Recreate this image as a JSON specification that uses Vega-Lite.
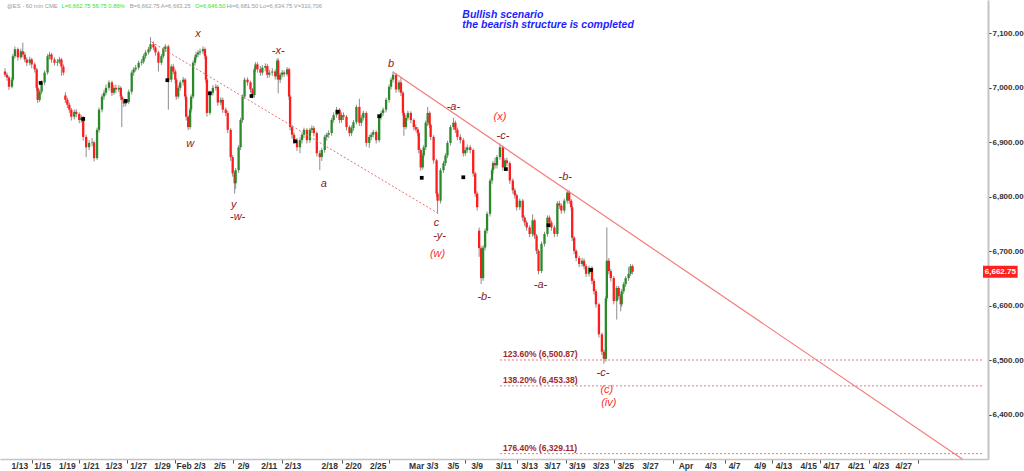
{
"$schema":"https://vega.github.io/schema/vega-lite/v6.json",
"width":988,"height":459,
"autosize":{"type":"none"},
"padding":{"left":0,"top":0,"right":36,"bottom":12},
"background":"white",
"config":{"view":{"stroke":null},"font":"Liberation Sans"},
"datasets":{
"candles":[
{"t":0,"o":7030,"h":7036,"l":7020,"c":7024},{"t":2,"o":7024,"h":7028,"l":7013,"c":7019},{"t":4,"o":7019,"h":7022,"l":6996,"c":7002},{"t":7,"o":7002,"h":7019,"l":6999,"c":7015},{"t":8,"o":7015,"h":7062,"l":7012,"c":7058},{"t":10,"o":7058,"h":7076,"l":7054,"c":7071},{"t":13,"o":7071,"h":7074,"l":7050,"c":7056},{"t":16,"o":7056,"h":7072,"l":7052,"c":7067},{"t":18,"o":7067,"h":7083,"l":7056,"c":7061},{"t":20,"o":7061,"h":7066,"l":7047,"c":7052},{"t":22,"o":7052,"h":7056,"l":7040,"c":7046},{"t":25,"o":7046,"h":7057,"l":7041,"c":7052},{"t":27,"o":7052,"h":7055,"l":7036,"c":7043},{"t":30,"o":7043,"h":7047,"l":7028,"c":7034},{"t":32,"o":7034,"h":7037,"l":6994,"c":7000},{"t":33,"o":7000,"h":7004,"l":6972,"c":6978},{"t":35,"o":6978,"h":6997,"l":6974,"c":6993},{"t":37,"o":6993,"h":7014,"l":6988,"c":7010},{"t":40,"o":7010,"h":7032,"l":7005,"c":7028},{"t":43,"o":7028,"h":7062,"l":7024,"c":7058},{"t":45,"o":7058,"h":7066,"l":7052,"c":7061},{"t":47,"o":7061,"h":7064,"l":7046,"c":7052},{"t":50,"o":7052,"h":7056,"l":7041,"c":7046},{"t":53,"o":7046,"h":7053,"l":7040,"c":7048},{"t":55,"o":7048,"h":7057,"l":7044,"c":7052},{"t":57,"o":7052,"h":7055,"l":7022,"c":7039},{"t":59,"o":7039,"h":7043,"l":7023,"c":7028},
{"t":61,"o":6986,"h":6992,"l":6972,"c":6978},{"t":63,"o":6978,"h":6982,"l":6963,"c":6969},{"t":65,"o":6969,"h":6973,"l":6954,"c":6960},{"t":67,"o":6960,"h":6963,"l":6940,"c":6947},{"t":70,"o":6947,"h":6960,"l":6942,"c":6956},{"t":72,"o":6956,"h":6961,"l":6946,"c":6952},{"t":75,"o":6952,"h":6955,"l":6935,"c":6941},{"t":77,"o":6941,"h":6950,"l":6936,"c":6945},{"t":79,"o":6945,"h":6948,"l":6903,"c":6910},{"t":82,"o":6910,"h":6914,"l":6873,"c":6891},{"t":85,"o":6891,"h":6904,"l":6886,"c":6899},{"t":88,"o":6899,"h":6908,"l":6893,"c":6900},{"t":90,"o":6900,"h":6903,"l":6865,"c":6871},{"t":93,"o":6871,"h":6927,"l":6868,"c":6923},{"t":95,"o":6923,"h":6964,"l":6918,"c":6960},{"t":98,"o":6960,"h":6988,"l":6955,"c":6984},{"t":100,"o":6984,"h":6996,"l":6978,"c":6991},{"t":102,"o":6991,"h":7006,"l":6986,"c":7000},{"t":105,"o":7000,"h":7014,"l":6995,"c":7010},{"t":108,"o":7010,"h":7013,"l":6985,"c":6991},{"t":110,"o":6991,"h":7005,"l":6987,"c":7000},{"t":112,"o":7000,"h":7006,"l":6990,"c":6997},{"t":115,"o":6997,"h":7005,"l":6992,"c":7000},{"t":117,"o":7000,"h":7003,"l":6978,"c":6984},{"t":118,"o":6984,"h":6988,"l":6928,"c":6978},{"t":120,"o":6978,"h":6982,"l":6965,"c":6971},{"t":122,"o":6971,"h":6979,"l":6966,"c":6974},{"t":125,"o":6974,"h":6997,"l":6970,"c":6993},{"t":128,"o":6993,"h":7032,"l":6988,"c":7028},{"t":130,"o":7028,"h":7038,"l":7022,"c":7034},{"t":132,"o":7034,"h":7042,"l":7030,"c":7037},{"t":135,"o":7037,"h":7050,"l":7033,"c":7046},{"t":138,"o":7046,"h":7053,"l":7041,"c":7048},{"t":140,"o":7048,"h":7062,"l":7044,"c":7058},{"t":142,"o":7058,"h":7069,"l":7053,"c":7065},{"t":145,"o":7065,"h":7075,"l":7061,"c":7071},{"t":147,"o":7071,"h":7093,"l":7067,"c":7080},{"t":150,"o":7080,"h":7085,"l":7069,"c":7074},{"t":152,"o":7074,"h":7077,"l":7059,"c":7065},{"t":155,"o":7065,"h":7068,"l":7030,"c":7046},{"t":158,"o":7046,"h":7062,"l":7042,"c":7058},{"t":160,"o":7058,"h":7075,"l":7054,"c":7071},{"t":162,"o":7071,"h":7080,"l":7066,"c":7076},{"t":165,"o":7076,"h":7079,"l":6960,"c":7015},{"t":168,"o":7015,"h":7043,"l":7010,"c":7039},{"t":170,"o":7039,"h":7044,"l":7025,"c":7030},{"t":172,"o":7030,"h":7034,"l":7008,"c":7015},{"t":173,"o":7015,"h":7018,"l":6978,"c":6984},{"t":175,"o":6984,"h":7005,"l":6980,"c":7000},{"t":177,"o":7000,"h":7014,"l":6995,"c":7010},{"t":180,"o":7010,"h":7020,"l":7004,"c":7015},{"t":182,"o":7015,"h":7018,"l":6978,"c":6984},{"t":183,"o":6984,"h":6987,"l":6940,"c":6947},{"t":185,"o":6947,"h":6950,"l":6922,"c":6928},{"t":187,"o":6928,"h":6964,"l":6924,"c":6960},{"t":188,"o":6960,"h":6988,"l":6955,"c":6984},{"t":190,"o":6984,"h":7050,"l":6980,"c":7046},{"t":192,"o":7046,"h":7060,"l":7041,"c":7056},{"t":193,"o":7056,"h":7066,"l":7052,"c":7061},{"t":195,"o":7061,"h":7069,"l":7056,"c":7065},{"t":197,"o":7065,"h":7072,"l":7060,"c":7067},{"t":200,"o":7067,"h":7076,"l":7062,"c":7071},{"t":202,"o":7071,"h":7074,"l":7053,"c":7058},{"t":203,"o":7058,"h":7061,"l":7009,"c":7015},{"t":204,"o":7015,"h":7018,"l":6947,"c":6954},{"t":207,"o":6954,"h":6995,"l":6950,"c":6991},{"t":210,"o":6991,"h":7005,"l":6986,"c":7000},{"t":213,"o":7000,"h":7007,"l":6995,"c":7002},{"t":215,"o":7002,"h":7005,"l":6967,"c":6973},{"t":218,"o":6973,"h":6983,"l":6968,"c":6978},{"t":220,"o":6978,"h":6982,"l":6954,"c":6960},{"t":223,"o":6960,"h":6964,"l":6948,"c":6954},{"t":225,"o":6954,"h":6958,"l":6917,"c":6923},{"t":228,"o":6923,"h":6926,"l":6866,"c":6873},{"t":230,"o":6873,"h":6877,"l":6837,"c":6843},{"t":232,"o":6843,"h":6847,"l":6806,"c":6825},{"t":233,"o":6825,"h":6853,"l":6815,"c":6849},{"t":236,"o":6849,"h":6895,"l":6844,"c":6891},{"t":238,"o":6891,"h":6945,"l":6886,"c":6941},{"t":240,"o":6941,"h":6988,"l":6936,"c":6984},{"t":242,"o":6984,"h":7019,"l":6980,"c":7015},{"t":245,"o":7015,"h":7019,"l":7004,"c":7010},{"t":248,"o":7010,"h":7013,"l":6991,"c":6997},{"t":250,"o":6997,"h":7000,"l":6981,"c":6987},{"t":252,"o":6987,"h":7038,"l":6982,"c":7034},{"t":253,"o":7034,"h":7047,"l":7029,"c":7043},{"t":255,"o":7043,"h":7047,"l":7028,"c":7034},{"t":258,"o":7034,"h":7040,"l":7022,"c":7028},{"t":260,"o":7028,"h":7042,"l":7023,"c":7037},{"t":263,"o":7037,"h":7045,"l":7030,"c":7040},{"t":265,"o":7040,"h":7044,"l":7018,"c":7024},{"t":267,"o":7024,"h":7033,"l":7019,"c":7028},{"t":270,"o":7028,"h":7036,"l":7022,"c":7030},{"t":273,"o":7030,"h":7034,"l":7015,"c":7021},{"t":275,"o":7021,"h":7054,"l":7016,"c":7050},{"t":276,"o":7050,"h":7054,"l":6990,"c":7015},{"t":278,"o":7015,"h":7028,"l":7009,"c":7024},{"t":280,"o":7024,"h":7033,"l":7019,"c":7028},{"t":282,"o":7028,"h":7032,"l":7020,"c":7025},{"t":285,"o":7025,"h":7038,"l":7021,"c":7034},{"t":287,"o":7034,"h":7037,"l":6978,"c":6984},{"t":288,"o":6984,"h":6987,"l":6922,"c":6928},{"t":290,"o":6928,"h":6932,"l":6907,"c":6914},{"t":292,"o":6914,"h":6918,"l":6897,"c":6904},{"t":295,"o":6904,"h":6908,"l":6884,"c":6891},{"t":298,"o":6891,"h":6909,"l":6880,"c":6904},{"t":300,"o":6904,"h":6918,"l":6898,"c":6914},{"t":302,"o":6914,"h":6927,"l":6908,"c":6923},{"t":305,"o":6923,"h":6926,"l":6898,"c":6904},{"t":308,"o":6904,"h":6927,"l":6899,"c":6923},{"t":310,"o":6923,"h":6931,"l":6917,"c":6926},{"t":312,"o":6926,"h":6930,"l":6911,"c":6917},{"t":315,"o":6917,"h":6920,"l":6874,"c":6880},{"t":318,"o":6880,"h":6885,"l":6849,"c":6873},{"t":320,"o":6873,"h":6890,"l":6866,"c":6886},{"t":323,"o":6886,"h":6914,"l":6881,"c":6910},{"t":325,"o":6910,"h":6918,"l":6903,"c":6914},{"t":327,"o":6914,"h":6922,"l":6908,"c":6917},{"t":330,"o":6917,"h":6945,"l":6912,"c":6941},{"t":332,"o":6941,"h":6955,"l":6936,"c":6950},{"t":335,"o":6950,"h":6965,"l":6945,"c":6960},{"t":338,"o":6960,"h":6963,"l":6935,"c":6941},{"t":340,"o":6941,"h":6955,"l":6936,"c":6950},{"t":342,"o":6950,"h":6955,"l":6941,"c":6947},{"t":345,"o":6947,"h":6950,"l":6922,"c":6928},{"t":348,"o":6928,"h":6931,"l":6911,"c":6917},{"t":350,"o":6917,"h":6931,"l":6912,"c":6926},{"t":352,"o":6926,"h":6941,"l":6921,"c":6937},{"t":355,"o":6937,"h":6969,"l":6933,"c":6965},{"t":358,"o":6965,"h":6980,"l":6930,"c":6936},{"t":360,"o":6936,"h":6950,"l":6930,"c":6945},{"t":362,"o":6945,"h":6958,"l":6940,"c":6954},{"t":365,"o":6954,"h":6957,"l":6892,"c":6899},{"t":368,"o":6899,"h":6914,"l":6890,"c":6910},{"t":370,"o":6910,"h":6918,"l":6904,"c":6914},{"t":372,"o":6914,"h":6923,"l":6909,"c":6919},{"t":375,"o":6919,"h":6922,"l":6898,"c":6904},{"t":378,"o":6904,"h":6951,"l":6900,"c":6947},{"t":380,"o":6947,"h":6958,"l":6942,"c":6954},{"t":382,"o":6954,"h":6964,"l":6949,"c":6960},{"t":385,"o":6960,"h":6982,"l":6955,"c":6978},{"t":388,"o":6978,"h":7006,"l":6973,"c":7002},{"t":390,"o":7002,"h":7019,"l":6997,"c":7015},{"t":392,"o":7015,"h":7030,"l":7010,"c":7024},{"t":395,"o":7024,"h":7027,"l":6991,"c":6997},{"t":398,"o":6997,"h":7014,"l":6992,"c":7010},{"t":400,"o":7010,"h":7020,"l":6985,"c":6991},{"t":402,"o":6991,"h":6994,"l":6948,"c":6954},{"t":403,"o":6954,"h":6957,"l":6912,"c":6928},{"t":405,"o":6928,"h":6950,"l":6924,"c":6945},{"t":407,"o":6945,"h":6958,"l":6940,"c":6954},{"t":410,"o":6954,"h":6957,"l":6935,"c":6941},{"t":413,"o":6941,"h":6944,"l":6922,"c":6928},{"t":415,"o":6928,"h":6933,"l":6920,"c":6924},{"t":417,"o":6924,"h":6928,"l":6911,"c":6917},{"t":418,"o":6917,"h":6920,"l":6880,"c":6886},{"t":420,"o":6886,"h":6889,"l":6848,"c":6854},{"t":422,"o":6854,"h":6880,"l":6850,"c":6876},{"t":423,"o":6876,"h":6895,"l":6871,"c":6891},{"t":425,"o":6891,"h":6940,"l":6886,"c":6936},{"t":427,"o":6936,"h":6965,"l":6930,"c":6954},{"t":429,"o":6954,"h":6957,"l":6926,"c":6932},{"t":430,"o":6932,"h":6935,"l":6904,"c":6910},{"t":433,"o":6910,"h":6913,"l":6861,"c":6867},{"t":436,"o":6867,"h":6870,"l":6800,"c":6806},{"t":437,"o":6806,"h":6810,"l":6769,"c":6793},{"t":440,"o":6793,"h":6853,"l":6788,"c":6849},{"t":443,"o":6849,"h":6866,"l":6844,"c":6862},{"t":445,"o":6862,"h":6880,"l":6857,"c":6876},{"t":447,"o":6876,"h":6903,"l":6871,"c":6899},{"t":450,"o":6899,"h":6932,"l":6894,"c":6928},{"t":453,"o":6928,"h":6945,"l":6923,"c":6936},{"t":455,"o":6936,"h":6940,"l":6917,"c":6923},{"t":457,"o":6923,"h":6927,"l":6904,"c":6910},{"t":460,"o":6910,"h":6915,"l":6898,"c":6904},{"t":463,"o":6904,"h":6908,"l":6874,"c":6880},{"t":465,"o":6880,"h":6891,"l":6875,"c":6886},{"t":467,"o":6886,"h":6896,"l":6881,"c":6891},{"t":470,"o":6891,"h":6895,"l":6880,"c":6886},{"t":473,"o":6886,"h":6889,"l":6837,"c":6843},{"t":475,"o":6843,"h":6846,"l":6800,"c":6806},{"t":477,"o":6806,"h":6810,"l":6775,"c":6781},
{"t":479,"o":6738,"h":6744,"l":6690,"c":6706},{"t":481,"o":6706,"h":6710,"l":6640,"c":6651},{"t":483,"o":6651,"h":6711,"l":6646,"c":6707},{"t":485,"o":6707,"h":6742,"l":6702,"c":6738},{"t":487,"o":6738,"h":6773,"l":6733,"c":6769},{"t":490,"o":6769,"h":6834,"l":6764,"c":6830},{"t":492,"o":6830,"h":6853,"l":6824,"c":6849},{"t":493,"o":6849,"h":6866,"l":6843,"c":6862},{"t":495,"o":6862,"h":6872,"l":6852,"c":6858},{"t":497,"o":6858,"h":6877,"l":6852,"c":6873},{"t":500,"o":6873,"h":6898,"l":6868,"c":6891},{"t":503,"o":6891,"h":6894,"l":6848,"c":6854},{"t":505,"o":6854,"h":6871,"l":6849,"c":6867},{"t":507,"o":6867,"h":6872,"l":6856,"c":6862},{"t":510,"o":6862,"h":6865,"l":6824,"c":6830},{"t":513,"o":6830,"h":6834,"l":6806,"c":6812},{"t":515,"o":6812,"h":6816,"l":6797,"c":6803},{"t":517,"o":6803,"h":6806,"l":6775,"c":6781},{"t":520,"o":6781,"h":6797,"l":6776,"c":6793},{"t":523,"o":6793,"h":6796,"l":6756,"c":6762},{"t":525,"o":6762,"h":6766,"l":6747,"c":6753},{"t":527,"o":6753,"h":6757,"l":6738,"c":6744},{"t":530,"o":6744,"h":6748,"l":6726,"c":6732},{"t":533,"o":6732,"h":6768,"l":6727,"c":6757},{"t":535,"o":6757,"h":6760,"l":6723,"c":6729},{"t":537,"o":6729,"h":6732,"l":6695,"c":6701},{"t":539,"o":6701,"h":6704,"l":6658,"c":6664},{"t":542,"o":6664,"h":6718,"l":6660,"c":6714},{"t":545,"o":6714,"h":6736,"l":6709,"c":6732},{"t":548,"o":6732,"h":6766,"l":6727,"c":6762},{"t":550,"o":6762,"h":6766,"l":6747,"c":6753},{"t":552,"o":6753,"h":6757,"l":6738,"c":6744},{"t":555,"o":6744,"h":6748,"l":6726,"c":6732},{"t":558,"o":6732,"h":6792,"l":6727,"c":6788},{"t":560,"o":6788,"h":6793,"l":6778,"c":6784},{"t":562,"o":6784,"h":6788,"l":6769,"c":6775},{"t":565,"o":6775,"h":6797,"l":6770,"c":6793},{"t":568,"o":6793,"h":6813,"l":6788,"c":6808},{"t":570,"o":6808,"h":6812,"l":6787,"c":6793},{"t":572,"o":6793,"h":6796,"l":6775,"c":6781},{"t":573,"o":6781,"h":6784,"l":6719,"c":6725},{"t":575,"o":6725,"h":6728,"l":6695,"c":6701},{"t":577,"o":6701,"h":6704,"l":6682,"c":6688},{"t":580,"o":6688,"h":6692,"l":6671,"c":6677},{"t":583,"o":6677,"h":6688,"l":6672,"c":6683},{"t":585,"o":6683,"h":6687,"l":6667,"c":6673},{"t":587,"o":6673,"h":6677,"l":6653,"c":6659},{"t":590,"o":6659,"h":6674,"l":6654,"c":6670},{"t":593,"o":6670,"h":6673,"l":6640,"c":6646},{"t":595,"o":6646,"h":6650,"l":6621,"c":6627},{"t":597,"o":6627,"h":6631,"l":6597,"c":6603},{"t":600,"o":6603,"h":6606,"l":6542,"c":6548},{"t":603,"o":6548,"h":6551,"l":6510,"c":6516},{"t":605,"o":6516,"h":6520,"l":6494,"c":6503},{"t":607,"o":6503,"h":6618,"l":6498,"c":6614},{"t":608,"o":6614,"h":6744,"l":6609,"c":6683},{"t":610,"o":6683,"h":6688,"l":6658,"c":6664},{"t":612,"o":6664,"h":6668,"l":6645,"c":6651},{"t":615,"o":6651,"h":6655,"l":6603,"c":6609},{"t":618,"o":6609,"h":6637,"l":6575,"c":6633},{"t":620,"o":6633,"h":6637,"l":6612,"c":6618},{"t":622,"o":6618,"h":6622,"l":6590,"c":6603},{"t":623,"o":6603,"h":6631,"l":6598,"c":6627},{"t":625,"o":6627,"h":6644,"l":6622,"c":6640},{"t":627,"o":6640,"h":6655,"l":6635,"c":6651},{"t":630,"o":6651,"h":6671,"l":6646,"c":6659},{"t":632,"o":6659,"h":6677,"l":6655,"c":6673},{"t":634,"o":6673,"h":6676,"l":6658,"c":6662.75}
],
"markers":[{"t":36,"p":7009},{"t":79,"p":6943},{"t":122,"p":6976},{"t":164,"p":7014},{"t":207,"p":6990},{"t":249,"p":6985},{"t":293,"p":6902},{"t":336,"p":6956},{"t":378,"p":6948},{"t":421,"p":6835},{"t":463,"p":6836},{"t":506,"p":6851},{"t":549,"p":6748},{"t":592,"p":6666}],
"dotted":[{"t":148,"p":7084},{"t":437,"p":6770.5}],
"solid":[{"t":392,"p":7029},{"t":967,"p":6319.3}],
"fib":[{"t":500,"t2":988,"p":6500.87,"label":"123.60% (6,500.87)"},{"t":500,"t2":988,"p":6453.38,"label":"138.20% (6,453.38)"},{"t":500,"t2":988,"p":6329.11,"label":"176.40% (6,329.11)"}],
"waves":[
{"t":195,"p":7098.7,"text":"x","kind":"dark"},{"t":187,"p":6897,"text":"w","kind":"dark"},{"t":231,"p":6785,"text":"y","kind":"dark"},{"t":235,"p":6763,"text":"-w-","kind":"dark"},{"t":276,"p":7067.5,"text":"-x-","kind":"dark"},{"t":322,"p":6823.6,"text":"a","kind":"dark"},{"t":390,"p":7043.7,"text":"b","kind":"dark"},{"t":453,"p":6964.8,"text":"-a-","kind":"dark"},{"t":436,"p":6752,"text":"c","kind":"dark"},{"t":439,"p":6728.3,"text":"-y-","kind":"dark"},{"t":437,"p":6695.3,"text":"(w)","kind":"bright"},{"t":500,"p":6946.5,"text":"(x)","kind":"bright"},{"t":503,"p":6911.7,"text":"-c-","kind":"dark"},{"t":484,"p":6616.4,"text":"-b-","kind":"dark"},{"t":541,"p":6638.4,"text":"-a-","kind":"dark"},{"t":566,"p":6836.5,"text":"-b-","kind":"dark"},{"t":604,"p":6477,"text":"-c-","kind":"dark"},{"t":608,"p":6445.8,"text":"(c)","kind":"bright"},{"t":610,"p":6422,"text":"(iv)","kind":"bright"}],
"titles":[{"t":462,"p":7133.6,"text":"Bullish scenario"},{"t":462,"p":7115.2,"text":"the bearish structure is completed"}],
"header":[{"t":2,"p":7150,"text":"@ES - 60 min CME","kind":"grey"},{"t":57,"p":7150,"text":"L=6,662.75 56.75 0.86%","kind":"green"},{"t":126,"p":7150,"text":"B=6,662.75 A=6,663.25","kind":"grey"},{"t":192,"p":7150,"text":"O=6,646.50","kind":"green"},{"t":224,"p":7150,"text":"Hi=6,681.50 Lo=6,634.75 V=310,706","kind":"grey"}],
"xlabels":[{"t":15,"p":6306.5,"text":"1/13"},{"t":38,"p":6306.5,"text":"1/15"},{"t":63,"p":6306.5,"text":"1/19"},{"t":87,"p":6306.5,"text":"1/21"},{"t":110,"p":6306.5,"text":"1/23"},{"t":135,"p":6306.5,"text":"1/27"},{"t":159,"p":6306.5,"text":"1/29"},{"t":188,"p":6306.5,"text":"Feb 2/3"},{"t":217,"p":6306.5,"text":"2/5"},{"t":241,"p":6306.5,"text":"2/9"},{"t":267,"p":6306.5,"text":"2/11"},{"t":291,"p":6306.5,"text":"2/13"},{"t":328,"p":6306.5,"text":"2/18"},{"t":352,"p":6306.5,"text":"2/20"},{"t":377,"p":6306.5,"text":"2/25"},{"t":423,"p":6306.5,"text":"Mar 3/3"},{"t":453,"p":6306.5,"text":"3/5"},{"t":477,"p":6306.5,"text":"3/9"},{"t":504,"p":6306.5,"text":"3/11"},{"t":530,"p":6306.5,"text":"3/13"},{"t":553,"p":6306.5,"text":"3/17"},{"t":578,"p":6306.5,"text":"3/19"},{"t":602,"p":6306.5,"text":"3/23"},{"t":627,"p":6306.5,"text":"3/25"},{"t":652,"p":6306.5,"text":"3/27"},{"t":688,"p":6306.5,"text":"Apr"},{"t":713,"p":6306.5,"text":"4/3"},{"t":737,"p":6306.5,"text":"4/7"},{"t":763,"p":6306.5,"text":"4/9"},{"t":787,"p":6306.5,"text":"4/13"},{"t":812,"p":6306.5,"text":"4/15"},{"t":835,"p":6306.5,"text":"4/17"},{"t":860,"p":6306.5,"text":"4/21"},{"t":885,"p":6306.5,"text":"4/23"},{"t":908,"p":6306.5,"text":"4/27"}],
"last":[{"t":988,"t2":1023,"tm":1005.5,"lo":6651.75,"hi":6673.75,"p":6662.75,"text":"6,662.75"}]
},
"layer":[
{"data":{"name":"candles"},"mark":{"type":"rule","color":"#8c8c8c","strokeWidth":1},
"encoding":{
"x":{"field":"t","type":"quantitative","scale":{"domain":[0,988],"nice":false,"zero":false},
"axis":{"orient":"bottom","title":null,"grid":false,"labels":false,
"values":[27,50,75,99,123,147,172,208,230,255,280,307,340,365,388,440,465,490,517,542,567,590,615,640,675,702,727,750,775,800,823,848,873,898,922],
"domainColor":"#c4c4c4","domainWidth":1.5,"tickColor":"#555555","tickSize":4}},
"y":{"field":"l","type":"quantitative","scale":{"domain":[6319.3,7161.1],"nice":false,"zero":false},
"axis":{"orient":"right","title":null,"grid":false,"values":[6400,6500,6600,6700,6800,6900,7000,7100],"format":",.2f",
"domainColor":"#c4c4c4","domainWidth":2,"tickColor":"#333333","tickSize":3,"labelPadding":1,
"labelFont":"Liberation Sans","labelFontSize":8,"labelFontWeight":"bold","labelColor":"#333333"}},
"y2":{"field":"h"}}},
{"data":{"name":"candles"},"mark":{"type":"bar","width":2.3},
"encoding":{"x":{"field":"t","type":"quantitative","axis":{"title":null}},
"y":{"field":"o","type":"quantitative","axis":{"title":null}},"y2":{"field":"c"},
"color":{"condition":{"test":"datum.c >= datum.o","value":"#2a8a2a"},"value":"#ff1c1c"}}},
{"data":{"name":"fib"},"mark":{"type":"rule","color":"#e07a7a","strokeDash":[2,2],"strokeWidth":1},
"encoding":{"x":{"field":"t","type":"quantitative","axis":{"title":null}},"x2":{"field":"t2"},
"y":{"field":"p","type":"quantitative","axis":{"title":null}}}},
{"data":{"name":"fib"},"mark":{"type":"text","align":"left","baseline":"bottom","dx":3,"dy":-1,"font":"Liberation Sans","fontSize":8.5,"fontWeight":"bold","color":"#a02828"},
"encoding":{"x":{"field":"t","type":"quantitative","axis":{"title":null}},"y":{"field":"p","type":"quantitative","axis":{"title":null}},"text":{"field":"label"}}},
{"data":{"name":"dotted"},"mark":{"type":"line","color":"#e07070","strokeDash":[2,2],"strokeWidth":1},
"encoding":{"x":{"field":"t","type":"quantitative","axis":{"title":null}},"y":{"field":"p","type":"quantitative","axis":{"title":null}}}},
{"data":{"name":"solid"},"mark":{"type":"line","color":"#f47c7c","strokeWidth":1.2},
"encoding":{"x":{"field":"t","type":"quantitative","axis":{"title":null}},"y":{"field":"p","type":"quantitative","axis":{"title":null}}}},
{"data":{"name":"markers"},"mark":{"type":"square","color":"black","size":14,"opacity":1},
"encoding":{"x":{"field":"t","type":"quantitative","axis":{"title":null}},"y":{"field":"p","type":"quantitative","axis":{"title":null}}}},
{"data":{"name":"waves"},"mark":{"type":"text","align":"center","baseline":"middle","font":"Liberation Sans","fontSize":11,"fontStyle":"italic"},
"encoding":{"x":{"field":"t","type":"quantitative","axis":{"title":null}},"y":{"field":"p","type":"quantitative","axis":{"title":null}},"text":{"field":"text"},
"color":{"condition":{"test":"datum.kind == 'bright'","value":"#ff2d2d"},"value":"#8b1a1a"}}},
{"data":{"name":"titles"},"mark":{"type":"text","align":"left","baseline":"middle","font":"Liberation Sans","fontSize":10.5,"fontStyle":"italic","fontWeight":"bold","color":"#1e1eff"},
"encoding":{"x":{"field":"t","type":"quantitative","axis":{"title":null}},"y":{"field":"p","type":"quantitative","axis":{"title":null}},"text":{"field":"text"}}},
{"data":{"name":"header"},"mark":{"type":"text","align":"left","baseline":"middle","font":"Liberation Sans","fontSize":5.8},
"encoding":{"x":{"field":"t","type":"quantitative","axis":{"title":null}},"y":{"field":"p","type":"quantitative","axis":{"title":null}},"text":{"field":"text"},
"color":{"condition":{"test":"datum.kind == 'green'","value":"#2ee62e"},"value":"#9a9a9a"}}},
{"data":{"name":"xlabels"},"mark":{"type":"text","align":"center","baseline":"middle","font":"Liberation Sans","fontSize":8.5,"fontWeight":"bold","color":"#333333"},
"encoding":{"x":{"field":"t","type":"quantitative","axis":{"title":null}},"y":{"field":"p","type":"quantitative","axis":{"title":null}},"text":{"field":"text"}}},
{"data":{"name":"last"},"mark":{"type":"rect","color":"#ff2020"},
"encoding":{"x":{"field":"t","type":"quantitative","axis":{"title":null}},"x2":{"field":"t2"},
"y":{"field":"lo","type":"quantitative","axis":{"title":null}},"y2":{"field":"hi"}}},
{"data":{"name":"last"},"mark":{"type":"text","align":"center","baseline":"middle","font":"Liberation Sans","fontSize":8,"fontWeight":"bold","color":"white"},
"encoding":{"x":{"field":"tm","type":"quantitative","axis":{"title":null}},"y":{"field":"p","type":"quantitative","axis":{"title":null}},"text":{"field":"text"}}}
]
}
